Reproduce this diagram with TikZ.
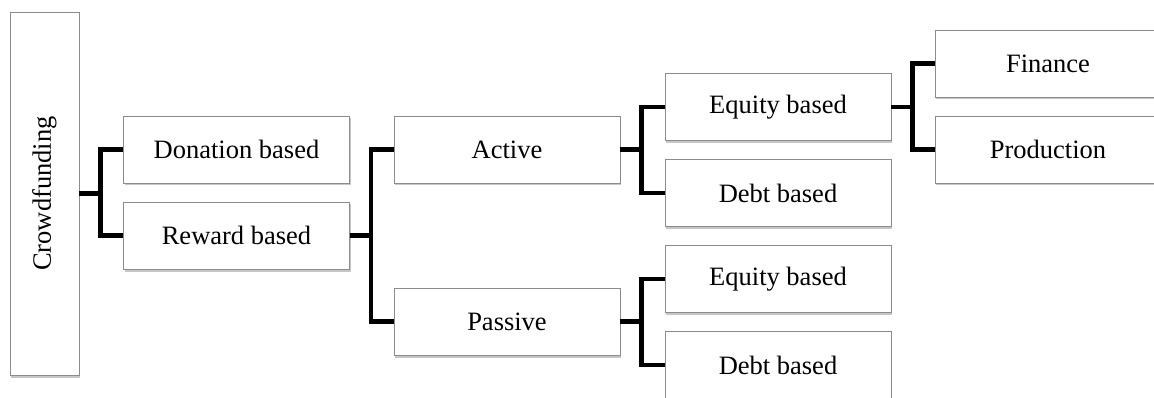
\documentclass[tikz,border=0pt]{standalone}
\usepackage{fontspec}
\setmainfont{Liberation Serif}
\usetikzlibrary{shadows}

\begin{document}
\begin{tikzpicture}[x=1pt, y=-1pt,
    box/.style={draw=black!45, line width=0.9pt, fill=white, inner sep=0pt,
        minimum width=226pt, minimum height=67pt,
        font=\fontsize{26.5}{30}\selectfont,
        drop shadow={shadow xshift=1.2pt, shadow yshift=-2.5pt, opacity=0.45}},
    link/.style={line width=4.2pt, black}]
        \useasboundingbox (0,0) rectangle (1154,398);
        \node[box, minimum width=69pt, minimum height=363pt] (crowd) at (44.5,193.5) {\rotatebox{90}{Crowdfunding}};
        \node[box] (donation) at (236.5,149.5) {Donation based};
        \node[box] (reward) at (236.5,235.5) {Reward based};
        \node[box] (active) at (507,149.5) {Active};
        \node[box] (passive) at (507,321.5) {Passive};
        \node[box] (actequity) at (778,107) {Equity based};
        \node[box] (actdebt) at (778,193) {Debt based};
        \node[box] (pasequity) at (778,279) {Equity based};
        \node[box] (pasdebt) at (778,365) {Debt based};
        \node[box] (finance) at (1048,63.5) {Finance};
        \node[box] (production) at (1048,149.5) {Production};
        % forks
        \draw[link] (crowd.east) -- ++(21,0) |- (donation.west);
        \draw[link] (crowd.east) -- ++(21,0) |- (reward.west);
        \draw[link] (reward.east) -- ++(21,0) |- (active.west);
        \draw[link] (reward.east) -- ++(21,0) |- (passive.west);
        \draw[link] (active.east) -- ++(21,0) |- (actequity.west);
        \draw[link] (active.east) -- ++(21,0) |- (actdebt.west);
        \draw[link] (passive.east) -- ++(21,0) |- (pasequity.west);
        \draw[link] (passive.east) -- ++(21,0) |- (pasdebt.west);
        \draw[link] (actequity.east) -- ++(21,0) |- (finance.west);
        \draw[link] (actequity.east) -- ++(21,0) |- (production.west);
    \end{tikzpicture}
\end{document}
